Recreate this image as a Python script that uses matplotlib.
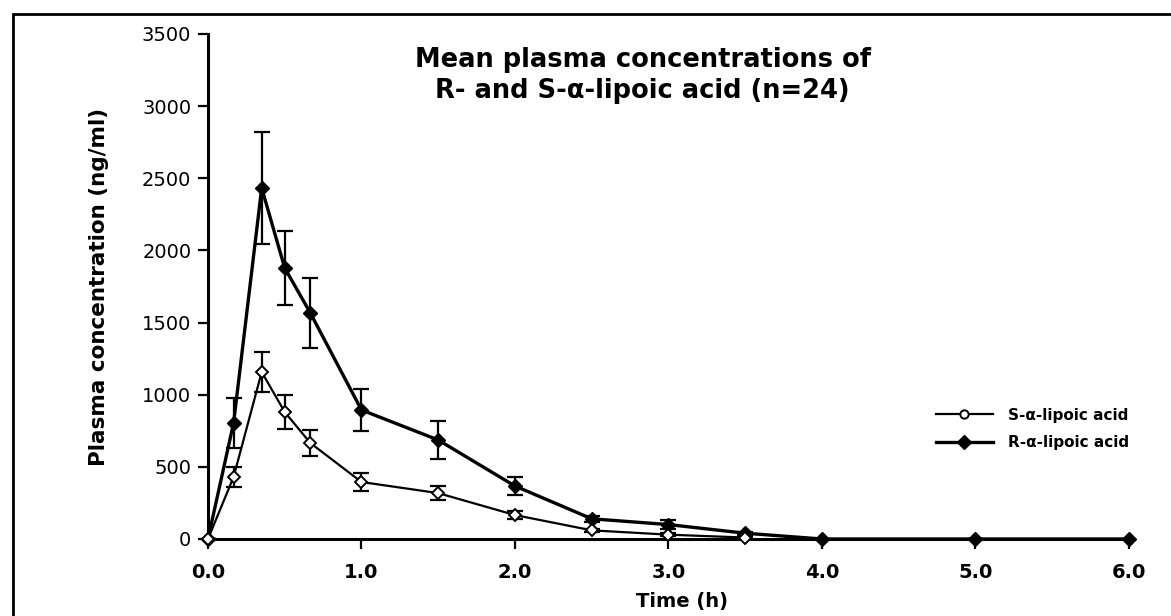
import matplotlib
matplotlib.use("Agg")
import matplotlib.pyplot as plt
from matplotlib.lines import Line2D
from matplotlib.patches import Rectangle

plt.rcParams['font.family'] = ['DejaVu Sans']

# time points (h)
time_s = [0.0, 0.167, 0.35, 0.5, 0.667, 1.0, 1.5, 2.0, 2.5, 3.0, 3.5]
time_r = [0.0, 0.167, 0.35, 0.5, 0.667, 1.0, 1.5, 2.0, 2.5, 3.0, 3.5, 4.0, 5.0, 6.0]

# S-alpha-lipoic acid, mean and SD (ng/ml)
s_mean = [0, 430, 1157, 880, 665, 395, 318, 166, 60, 30, 10]
s_err = [0, 70, 140, 115, 90, 60, 50, 25, 10, 10, 5]

# R-alpha-lipoic acid, mean and SD (ng/ml)
r_mean = [0, 804, 2432, 1878, 1566, 894, 686, 367, 140, 100, 40, 0, 0, 0]
r_err = [0, 175, 385, 255, 245, 145, 130, 65, 20, 30, 10, 0, 0, 0]

x_ticks = [0, 1, 2, 3, 4, 5, 6]
y_ticks = [0, 500, 1000, 1500, 2000, 2500, 3000, 3500]

fig = plt.figure(figsize=(11.71, 6.16), dpi=100)
ax = fig.add_axes([0.1776, 0.125, 0.7865, 0.82])

# frame around the whole picture
fig.patches.append(Rectangle((13 / 1171, -0.02), 1.02, 1 - 14 / 616 + 0.02,
                             transform=fig.transFigure, fill=False,
                             edgecolor='black', linewidth=2))

# error bars first, then the lines with markers on top
ax.errorbar(time_s, s_mean, yerr=s_err, fmt='none', ecolor='black',
            capsize=6, elinewidth=1.6, capthick=1.6)
ax.errorbar(time_r, r_mean, yerr=r_err, fmt='none', ecolor='black',
            capsize=6, elinewidth=1.6, capthick=1.6)
ax.plot(time_r, r_mean, color='black', linewidth=2.4, marker='D', markersize=7,
        markerfacecolor='black', clip_on=False, zorder=3)
ax.plot(time_s, s_mean, color='black', linewidth=1.6, marker='D', markersize=6,
        markerfacecolor='white', markeredgewidth=1.4, clip_on=False, zorder=4)

ax.set_xlim(0, 6)
ax.set_ylim(0, 3500)
ax.set_xticks(x_ticks)
ax.set_xticklabels([f'{t:.1f}' for t in x_ticks])
ax.set_yticks(y_ticks)
for lab in ax.get_xticklabels():
    lab.set_fontsize(14)
    lab.set_fontweight('bold')
for lab in ax.get_yticklabels():
    lab.set_fontsize(14)

ax.spines['top'].set_visible(False)
ax.spines['right'].set_visible(False)
ax.spines['left'].set_linewidth(2.2)
ax.spines['bottom'].set_linewidth(2.2)
ax.tick_params(axis='both', direction='out', length=7, width=1.6)
ax.tick_params(axis='x', pad=10)
ax.tick_params(axis='y', pad=5)

ax.set_xlabel('Time (h)', fontsize=14, fontweight='bold')
ax.xaxis.set_label_coords(0.515, -0.105)
ax.set_ylabel('Plasma concentration (ng/ml)', fontsize=15.5, fontweight='bold')
ax.yaxis.set_label_coords(-0.108, 0.5)

ax.text(0.472, 0.975, 'Mean plasma concentrations of\nR- and S-α-lipoic acid (n=24)',
        transform=ax.transAxes, ha='center', va='top', fontsize=18.5,
        fontweight='bold', linespacing=1.25)

handles = [
    Line2D([], [], color='black', linewidth=1.6, marker='o', markersize=6,
           markerfacecolor='white', markeredgewidth=1.4),
    Line2D([], [], color='black', linewidth=2.4, marker='D', markersize=7,
           markerfacecolor='black'),
]
ax.legend(handles, ['S-α-lipoic acid', 'R-α-lipoic acid'], loc='center right',
          bbox_to_anchor=(1.0, 0.218), frameon=False, borderaxespad=0,
          borderpad=0, prop={'size': 11, 'weight': 'bold'},
          handlelength=3.7, handletextpad=1.0, labelspacing=0.8)

fig.savefig('out.png', dpi=100)
